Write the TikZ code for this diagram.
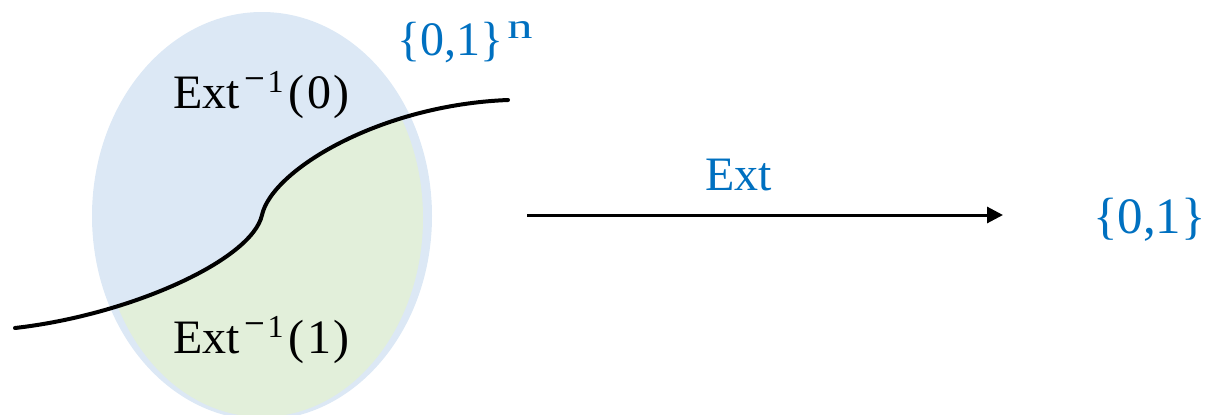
\documentclass[tikz,border=0pt]{standalone}
\usepackage{fontspec}
\setmainfont{Liberation Serif}
\usetikzlibrary{arrows.meta}
\definecolor{setblue}{RGB}{220,232,245}
\definecolor{setgreen}{RGB}{226,239,218}
\definecolor{labblue}{RGB}{0,112,192}
\newcommand{\supmo}{\kern5pt\raisebox{16pt}{\fontsize{32}{34}\selectfont\scalebox{1.15}[1.3]{−}\kern2pt 1}\kern5pt}
\newcommand{\supn}{\kern4pt\raisebox{17pt}{\fontsize{36}{38}\selectfont\scalebox{1.4}[1]{n}}}
\tikzset{
  lab/.style={anchor=base west, inner sep=0pt, font=\fontsize{48}{52}\selectfont},
  bluelab/.style={lab, text=labblue},
  curveline/.style={line width=4pt, black, line cap=round},
  maparrow/.style={line width=3pt, -{Triangle[length=16pt,width=16pt]}}
}
\begin{document}
\begin{tikzpicture}[x=1pt,y=-1pt]
\useasboundingbox (0,0) rectangle (1205,415);
% blue set
\fill[setblue] (262,216) ellipse [x radius=170, y radius=204];
% green part below the curve
\begin{scope}
  \clip (15,328) .. controls (130,315) and (252,260) .. (262,215)
        .. controls (272,170) and (380,105) .. (508,100)
        -- (508,460) -- (15,460) -- cycle;
  \fill[setgreen] (262,218) ellipse [x radius=161, y radius=199];
\end{scope}
% dividing curve
\coordinate (cstart) at (15,328);
\coordinate (cmid) at (262,215);
\coordinate (cend) at (508,100);
\draw[curveline] (cstart) .. controls (130,315) and (252,260) .. (cmid)
  .. controls (272,170) and (380,105) .. (cend);
% labels
\node[lab] (pre0) at (173,108) {Ext\supmo(\kern2.5pt0\kern2.5pt)};
\node[lab] (pre1) at (173,353) {Ext\supmo(\kern2.5pt1\kern2.5pt)};
\node[bluelab] (domain) at (397,55) {\{0,1\}\supn};
\node[bluelab, font=\fontsize{51}{54}\selectfont] (range) at (1093,233) {\{0,1\}};
\node[bluelab] (extlab) at (705,190) {Ext};
% arrow
\coordinate (astart) at (527,215);
\coordinate (aend) at (1003,215);
\draw[maparrow] (astart) -- (aend);
\end{tikzpicture}
\end{document}
